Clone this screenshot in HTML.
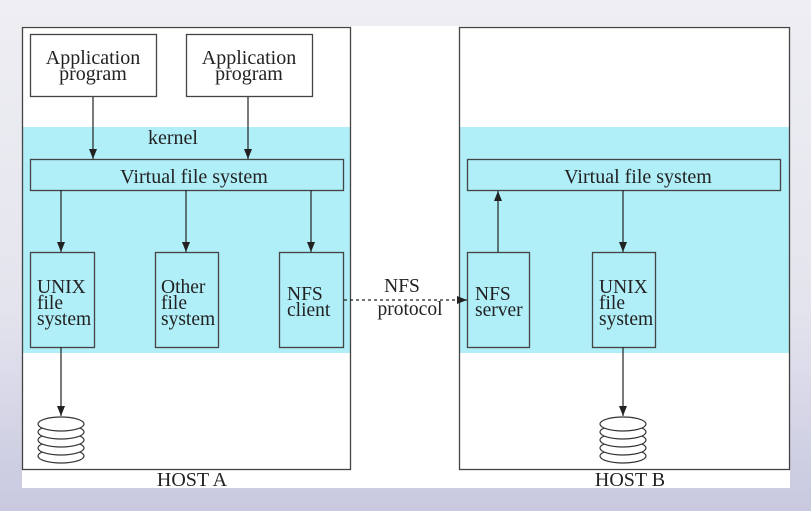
<!DOCTYPE html>
<html><head><style>
body{margin:0;width:811px;height:511px;overflow:hidden;background:linear-gradient(#eeeef3,#e4e4ee 60%,#c8c8e0);}
</style></head><body>
<svg width="811" height="511" viewBox="0 0 811 511" style="position:absolute;left:0;top:0" font-family="Liberation Serif, serif" font-size="20" fill="#222">
<defs><marker id="a" markerWidth="10" markerHeight="8" refX="10" refY="4" orient="auto" markerUnits="userSpaceOnUse"><path d="M0,0 L10,4 L0,8z" fill="#222"/></marker>
<g id="disk" fill="#fff" stroke="#333" stroke-width="1.2">
<ellipse cx="0" cy="40" rx="23" ry="7"/><ellipse cx="0" cy="32" rx="23" ry="7"/><ellipse cx="0" cy="24" rx="23" ry="7"/><ellipse cx="0" cy="16" rx="23" ry="7"/><ellipse cx="0" cy="8" rx="23" ry="7"/></g></defs>
<rect x="22" y="26" width="768" height="462" fill="#fff"/>
<rect x="22" y="127" width="768" height="226" fill="#b0eef8"/>
<rect x="351" y="26" width="108" height="327" fill="#fff"/>
<g fill="none" stroke="#444" stroke-width="1.3">
<rect x="22.5" y="27.5" width="328" height="442"/>
<rect x="459.5" y="27.5" width="330" height="442"/>
<rect x="30.5" y="34.5" width="126" height="62" fill="#fff"/>
<rect x="186.5" y="34.5" width="126" height="62" fill="#fff"/>
<rect x="30.5" y="159.5" width="313" height="31"/>
<rect x="467.5" y="159.5" width="313" height="31"/>
<rect x="30.5" y="252.5" width="64" height="95"/>
<rect x="155.5" y="252.5" width="63" height="95"/>
<rect x="279.5" y="252.5" width="64" height="95"/>
<rect x="467.5" y="252.5" width="62" height="95"/>
<rect x="592.5" y="252.5" width="63" height="95"/>
</g>
<g stroke="#222" stroke-width="1.2" marker-end="url(#a)">
<line x1="93" y1="97" x2="93" y2="159"/>
<line x1="248" y1="97" x2="248" y2="159"/>
<line x1="61" y1="190" x2="61" y2="252"/>
<line x1="186" y1="190" x2="186" y2="252"/>
<line x1="311" y1="190" x2="311" y2="252"/>
<line x1="623" y1="190" x2="623" y2="252"/>
<line x1="61" y1="347" x2="61" y2="416"/>
<line x1="623" y1="347" x2="623" y2="416"/>
<line x1="498" y1="252" x2="498" y2="191"/>
</g>
<line x1="344" y1="300" x2="467" y2="300" stroke="#222" stroke-width="1.2" stroke-dasharray="3,3" marker-end="url(#a)"/>
<use href="#disk" x="61" y="416"/><use href="#disk" x="623" y="416"/>
<text x="93" y="64" text-anchor="middle">Application</text><text x="93" y="80" text-anchor="middle">program</text>
<text x="249" y="64" text-anchor="middle">Application</text><text x="249" y="80" text-anchor="middle">program</text>
<text x="173" y="144" text-anchor="middle">kernel</text>
<text x="194" y="183" text-anchor="middle">Virtual file system</text>
<text x="638" y="183" text-anchor="middle">Virtual file system</text>
<g font-size="19.5">
<text x="37" y="293">UNIX</text><text x="37" y="309">file</text><text x="37" y="325">system</text>
<text x="161" y="293">Other</text><text x="161" y="309">file</text><text x="161" y="325">system</text>
<text x="287" y="300">NFS</text><text x="287" y="316">client</text>
<text x="475" y="300">NFS</text><text x="475" y="316">server</text>
<text x="599" y="293">UNIX</text><text x="599" y="309">file</text><text x="599" y="325">system</text>
<text x="402" y="292" text-anchor="middle">NFS</text><text x="410" y="315" text-anchor="middle">protocol</text>
</g>
<text x="192" y="486" text-anchor="middle" font-size="20">HOST A</text>
<text x="630" y="486" text-anchor="middle" font-size="20">HOST B</text>
</svg>
</body></html>
